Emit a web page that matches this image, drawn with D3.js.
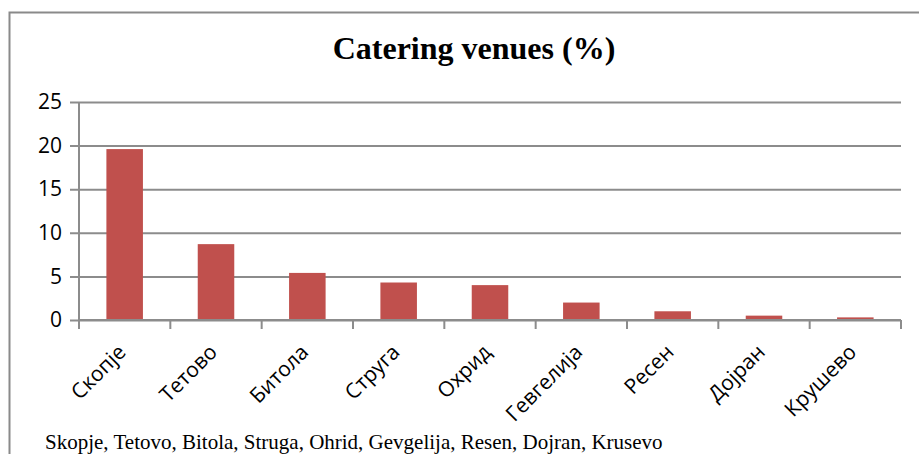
<!DOCTYPE html>
<html>
<head>
<meta charset="utf-8">
<script src="https://cdn.jsdelivr.net/npm/d3@7"></script>
<style>
  body { margin: 0; background: #fff; }
  svg { display: block; }
</style>
</head>
<body>
<script>
// chart data
var cities = ["Скопје", "Тетово", "Битола", "Струга", "Охрид", "Гевгелија", "Ресен", "Дојран", "Крушево"];
var shares = [19.6, 8.7, 5.4, 4.3, 4.0, 2.0, 1.0, 0.5, 0.3];
var yTicks = [0, 5, 10, 15, 20, 25];
var titleText = "Catering venues (%)";
var captionText = "Skopje, Tetovo, Bitola, Struga, Ohrid, Gevgelija, Resen, Dojran, Krusevo";

var W = 919, H = 454;
var margin = {top: 102, right: 18, bottom: 134, left: 79},
    width = W - margin.left - margin.right,
    height = H - margin.top - margin.bottom;

var svg = d3.select("body").append("svg")
  .attr("width", W)
  .attr("height", H);

// outer chart border (cut off at right and bottom)
svg.append("path")
  .attr("d", "M9.5,454 V12.5 H919")
  .attr("fill", "none")
  .attr("stroke", "#8a8a8a")
  .attr("stroke-width", 2);

svg.append("text")
  .attr("x", 474)
  .attr("y", 59)
  .attr("text-anchor", "middle")
  .style("font-family", "'Liberation Serif', 'Times New Roman', serif")
  .style("font-weight", "bold")
  .style("font-size", "32px")
  .text(titleText);

var g = svg.append("g")
  .attr("transform", "translate(" + margin.left + "," + margin.top + ")");

var x = d3.scaleBand()
  .domain(cities)
  .range([0, width])
  .paddingInner(0.6)
  .paddingOuter(0.3);

var y = d3.scaleLinear()
  .domain([0, 25])
  .range([height, 0]);

// gridlines + y labels
var yAxis = g.append("g")
  .call(d3.axisLeft(y).tickValues(yTicks).tickSize(-width).tickPadding(8).tickSizeOuter(0));
yAxis.select(".domain").remove();
yAxis.selectAll(".tick line")
  .attr("x1", -9)
  .attr("stroke", "#8c8c8c")
  .attr("stroke-width", 2);
yAxis.selectAll(".tick text")
  .attr("x", -17)
  .style("font-family", "'Open Sans', sans-serif")
  .style("font-size", "21px")
  .attr("fill", "#000");

// y axis line
g.append("line")
  .attr("x1", 0).attr("x2", 0)
  .attr("y1", 0).attr("y2", height)
  .attr("stroke", "#8c8c8c")
  .attr("stroke-width", 2);

// bars
g.selectAll("rect.bar")
  .data(shares)
  .enter().append("rect")
    .attr("class", "bar")
    .attr("x", function(d, i) { return x(cities[i]); })
    .attr("width", x.bandwidth())
    .attr("y", function(d) { return y(d); })
    .attr("height", function(d) { return height - y(d); })
    .attr("fill", "#c0504d");

// x axis with ticks at band boundaries
var bounds = d3.range(cities.length + 1);
var xAxis = g.append("g").attr("transform", "translate(0," + height + ")");
xAxis.append("line")
  .attr("x1", 0).attr("x2", width)
  .attr("stroke", "#8c8c8c")
  .attr("stroke-width", 2);
xAxis.selectAll("line.tk")
  .data(bounds)
  .enter().append("line")
    .attr("class", "tk")
    .attr("x1", function(d) { return d * width / cities.length; })
    .attr("x2", function(d) { return d * width / cities.length; })
    .attr("y1", 0)
    .attr("y2", 9)
    .attr("stroke", "#8c8c8c")
    .attr("stroke-width", 2);

xAxis.selectAll("text.lbl")
  .data(cities)
  .enter().append("text")
    .attr("class", "lbl")
    .attr("text-anchor", "end")
    .attr("transform", function(d) {
      return "translate(" + (x(d) + x.bandwidth() / 2 - 8) + ",23) rotate(-45)";
    })
    .attr("dy", "0.7em")
    .style("font-family", "'Open Sans', sans-serif")
    .style("font-size", "21px")
    .attr("fill", "#000")
    .text(function(d) { return d; });

// caption text box overlaying the bottom
svg.append("rect")
  .attr("x", 11)
  .attr("y", 424)
  .attr("width", W - 11)
  .attr("height", H - 424)
  .attr("fill", "#fff");

svg.append("text")
  .attr("x", 45)
  .attr("y", 449)
  .style("font-family", "'Liberation Serif', 'Times New Roman', serif")
  .style("font-size", "21px")
  .attr("fill", "#000")
  .text(captionText);
</script>
</body>
</html>
